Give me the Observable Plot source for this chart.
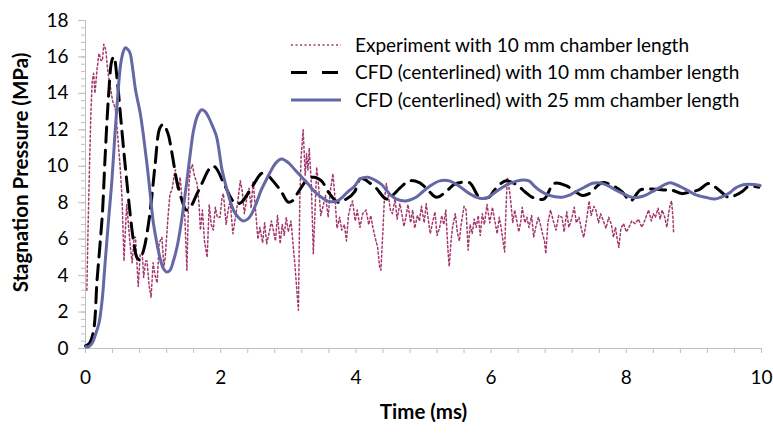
<!DOCTYPE html>
<html>
<head>
<meta charset="utf-8">
<script src="https://cdn.jsdelivr.net/npm/d3@7"></script>
<script src="https://cdn.jsdelivr.net/npm/@observablehq/plot@0.6"></script>
<style>
  html, body { margin: 0; padding: 0; background: #fff; }
  #wrap { position: relative; width: 773px; height: 435px; font-family: Lato, "Open Sans", sans-serif; }
  #legend { position: absolute; left: 0; top: 0; pointer-events: none; }
</style>
</head>
<body>
<div id="wrap"></div>
<script>
// ---- data (time in ms, pressure in MPa) ----
const seriesNames = [
  "Experiment with 10 mm chamber length",
  "CFD (centerlined) with 10 mm chamber length",
  "CFD (centerlined) with 25 mm chamber length"
];
const xTicks = [0, 2, 4, 6, 8, 10];
const yTicks = [0, 2, 4, 6, 8, 10, 12, 14, 16, 18];
const xTitle = "Time (ms)";
const yTitle = "Stagnation Pressure (MPa)";

const experiment = [
  [0.02,3.2],[0.04,7.0],[0.06,10.1],[0.08,13.0],[0.10,14.7],[0.12,15.1],[0.14,14.0],[0.17,15.3],
  [0.20,16.2],[0.23,15.8],[0.25,15.8],[0.27,16.7],[0.30,16.4],[0.33,15.2],[0.37,14.3],[0.40,13.6],
  [0.44,13.2],[0.47,12.0],[0.49,11.0],[0.51,10.1],[0.54,8.3],[0.57,4.8],[0.59,6.5],[0.61,7.9],
  [0.66,5.7],[0.69,4.7],[0.72,6.1],[0.74,6.1],[0.78,3.4],[0.81,5.2],[0.84,5.2],[0.86,3.9],
  [0.89,4.8],[0.91,4.8],[0.94,3.5],[0.97,2.8],[1.00,4.7],[1.03,4.0],[1.06,3.6],[1.09,5.8],
  [1.13,6.1],[1.16,4.5],[1.18,5.0],[1.22,7.2],[1.25,8.5],[1.28,8.7],[1.31,9.5],[1.33,9.8],
  [1.35,8.9],[1.37,8.7],[1.40,9.4],[1.43,8.1],[1.47,7.2],[1.50,4.3],[1.53,9.0],[1.55,9.8],
  [1.58,10.1],[1.61,9.5],[1.65,9.05],[1.68,7.9],[1.70,6.5],[1.73,7.6],[1.76,5.9],[1.80,5.0],
  [1.83,7.9],[1.86,6.8],[1.89,6.5],[1.92,7.75],[1.95,7.2],[1.99,7.2],[2.02,8.3],[2.04,8.5],
  [2.08,6.8],[2.11,7.6],[2.14,8.1],[2.18,6.3],[2.21,7.0],[2.25,8.0],[2.29,9.2],[2.32,8.6],
  [2.35,7.4],[2.38,8.1],[2.42,8.8],[2.45,7.7],[2.48,9.2],[2.52,7.4],[2.55,6.0],[2.58,6.65],
  [2.62,5.8],[2.65,6.9],[2.68,5.75],[2.72,6.4],[2.75,7.0],[2.77,6.65],[2.81,5.9],[2.84,7.3],
  [2.88,5.75],[2.91,6.8],[2.94,6.2],[2.97,7.2],[3.00,6.4],[3.04,7.0],[3.07,5.75],[3.10,4.5],
  [3.13,3.0],[3.15,2.1],[3.17,8.1],[3.19,10.5],[3.22,12.0],[3.25,9.5],[3.27,10.7],[3.29,9.8],
  [3.31,11.0],[3.34,9.05],[3.36,6.5],[3.37,5.2],[3.40,8.0],[3.42,9.95],[3.45,8.8],[3.48,7.3],
  [3.51,7.75],[3.55,8.4],[3.59,7.2],[3.62,8.6],[3.66,9.6],[3.69,8.3],[3.72,6.6],[3.76,7.2],
  [3.79,6.5],[3.83,6.8],[3.86,5.9],[3.89,7.3],[3.92,7.8],[3.95,8.1],[3.99,7.0],[4.02,7.6],
  [4.06,6.65],[4.10,7.4],[4.15,7.6],[4.19,6.8],[4.22,7.3],[4.25,6.65],[4.29,6.0],[4.32,5.6],
  [4.35,4.5],[4.37,4.3],[4.40,6.5],[4.42,8.1],[4.45,9.05],[4.48,8.4],[4.51,7.6],[4.54,7.4],
  [4.58,8.2],[4.61,7.1],[4.65,7.95],[4.68,7.4],[4.71,6.7],[4.74,7.2],[4.77,7.9],[4.81,6.9],
  [4.84,7.6],[4.87,6.6],[4.91,7.3],[4.94,7.0],[4.97,7.8],[5.01,6.9],[5.04,7.95],[5.07,7.1],
  [5.10,6.3],[5.13,6.85],[5.17,7.5],[5.20,6.2],[5.24,6.65],[5.27,7.3],[5.30,6.8],[5.33,7.6],
  [5.36,5.5],[5.38,4.5],[5.41,6.0],[5.43,6.65],[5.47,7.4],[5.50,6.4],[5.53,5.9],[5.56,6.9],
  [5.60,7.8],[5.63,7.6],[5.66,5.4],[5.69,6.8],[5.72,6.3],[5.75,7.1],[5.78,6.65],[5.81,7.3],
  [5.84,6.2],[5.87,7.4],[5.90,6.8],[5.94,7.9],[5.98,6.9],[6.02,7.75],[6.05,7.1],[6.09,6.3],
  [6.12,7.2],[6.15,6.6],[6.18,5.8],[6.20,5.3],[6.22,7.6],[6.24,9.4],[6.27,8.7],[6.29,8.1],
  [6.32,6.9],[6.35,7.6],[6.37,7.2],[6.41,6.4],[6.44,7.0],[6.46,7.75],[6.50,6.9],[6.53,7.2],
  [6.56,6.65],[6.60,7.3],[6.63,6.1],[6.66,6.65],[6.70,7.2],[6.73,6.8],[6.76,6.3],[6.79,5.9],
  [6.81,5.2],[6.84,6.9],[6.88,7.6],[6.92,7.0],[6.96,6.5],[7.00,7.3],[7.05,7.2],[7.08,6.4],
  [7.12,7.5],[7.15,6.65],[7.19,7.1],[7.23,7.75],[7.26,6.9],[7.30,7.2],[7.34,6.5],[7.37,6.1],
  [7.41,7.0],[7.45,8.1],[7.48,7.3],[7.52,7.8],[7.55,7.6],[7.59,6.9],[7.62,7.4],[7.66,7.0],
  [7.70,6.6],[7.74,7.2],[7.78,6.8],[7.81,6.1],[7.84,6.65],[7.87,5.9],[7.89,5.55],[7.92,6.6],
  [7.96,6.85],[8.00,6.4],[8.04,6.65],[8.08,7.0],[8.13,6.85],[8.18,7.1],[8.23,6.65],[8.27,7.0],
  [8.30,7.3],[8.33,7.6],[8.37,7.0],[8.40,7.4],[8.43,7.2],[8.47,7.7],[8.50,7.1],[8.53,7.6],
  [8.57,7.2],[8.60,6.65],[8.63,7.5],[8.65,7.9],[8.67,8.1],[8.69,7.2],[8.70,6.3]
];

const cfd10 = [
  [0,0.15],[0.06,0.3],[0.12,1.0],[0.17,3.7],[0.21,5.5],[0.25,7.4],[0.29,10.5],[0.34,13.8],
  [0.39,15.8],[0.42,16.0],[0.47,14.7],[0.52,12.7],[0.57,10.7],[0.61,9.2],[0.66,7.4],[0.71,5.9],
  [0.76,5.0],[0.80,4.87],[0.86,5.4],[0.93,6.8],[0.98,8.3],[1.03,10.1],[1.10,12.1],[1.15,12.3],
  [1.22,11.8],[1.28,10.7],[1.35,9.2],[1.43,8.1],[1.49,7.6],[1.55,7.75],[1.65,8.5],[1.74,9.2],
  [1.82,9.8],[1.87,10.0],[1.92,9.95],[2.06,8.95],[2.18,8.1],[2.25,7.95],[2.31,8.03],[2.46,8.85],
  [2.60,9.6],[2.65,9.65],[2.70,9.5],[2.88,8.7],[3.00,8.03],[3.06,8.1],[3.15,8.6],[3.29,9.3],
  [3.39,9.4],[3.49,9.2],[3.61,8.5],[3.73,8.03],[3.86,8.2],[3.98,8.6],[4.06,9.3],[4.12,9.3],
  [4.20,9.1],[4.30,8.8],[4.45,8.2],[4.54,8.4],[4.65,8.8],[4.79,9.2],[4.94,9.1],[5.04,8.8],
  [5.19,8.3],[5.33,8.6],[5.45,9.0],[5.53,9.1],[5.68,9.1],[5.83,8.3],[5.97,8.3],[6.05,8.7],
  [6.22,9.2],[6.39,8.95],[6.50,8.6],[6.61,8.3],[6.78,8.2],[6.93,9.05],[7.10,8.95],[7.25,8.6],
  [7.35,8.4],[7.45,8.5],[7.64,9.1],[7.79,8.95],[7.94,8.6],[8.06,8.1],[8.21,8.7],[8.38,8.75],
  [8.55,8.7],[8.67,8.7],[8.82,8.5],[8.95,8.6],[9.07,8.7],[9.22,9.05],[9.37,8.7],[9.51,8.3],
  [9.61,8.4],[9.71,8.6],[9.81,8.9],[9.96,8.85]
];

const cfd25 = [
  [0,0.1],[0.05,0.1],[0.10,0.3],[0.15,0.8],[0.20,1.4],[0.25,2.8],[0.29,4.7],[0.34,7.0],
  [0.39,9.2],[0.44,12.0],[0.48,14.0],[0.52,15.6],[0.56,16.3],[0.59,16.5],[0.63,16.4],[0.66,16.2],
  [0.70,15.3],[0.74,14.2],[0.81,12.9],[0.86,11.6],[0.91,10.1],[0.96,8.4],[1.00,7.0],[1.05,5.9],
  [1.10,5.0],[1.15,4.4],[1.20,4.2],[1.25,4.3],[1.30,4.8],[1.35,5.5],[1.40,6.5],[1.45,7.8],
  [1.50,9.2],[1.55,10.7],[1.60,12.0],[1.66,12.8],[1.72,13.1],[1.77,13.0],[1.82,12.7],[1.88,12.2],
  [1.94,11.6],[2.02,9.8],[2.08,8.9],[2.14,8.1],[2.20,7.5],[2.26,7.2],[2.33,7.0],[2.40,7.1],
  [2.46,7.4],[2.53,8.0],[2.60,8.7],[2.68,9.3],[2.75,9.8],[2.82,10.2],[2.90,10.4],[3.00,10.2],
  [3.10,9.8],[3.20,9.4],[3.30,9.0],[3.39,8.6],[3.49,8.3],[3.59,8.07],[3.66,8.05],[3.73,8.1],
  [3.80,8.3],[3.88,8.6],[3.98,8.9],[4.06,9.3],[4.18,9.4],[4.30,9.2],[4.38,9.0],[4.45,8.7],
  [4.52,8.4],[4.60,8.2],[4.74,8.1],[4.89,8.3],[4.99,8.6],[5.09,8.9],[5.24,9.2],[5.38,9.2],
  [5.53,8.9],[5.68,8.5],[5.83,8.25],[5.92,8.25],[6.00,8.4],[6.07,8.6],[6.17,8.85],[6.27,9.05],
  [6.39,9.2],[6.47,9.25],[6.56,9.2],[6.63,8.95],[6.71,8.7],[6.86,8.4],[7.05,8.3],[7.15,8.4],
  [7.25,8.6],[7.38,8.85],[7.50,9.07],[7.58,9.1],[7.65,9.05],[7.75,8.9],[7.84,8.7],[7.95,8.5],
  [8.08,8.3],[8.18,8.3],[8.28,8.4],[8.38,8.6],[8.48,8.8],[8.57,9.0],[8.65,9.1],[8.73,9.0],
  [8.82,8.85],[8.92,8.65],[9.02,8.45],[9.17,8.3],[9.31,8.2],[9.40,8.3],[9.46,8.4],[9.55,8.6],
  [9.61,8.8],[9.70,8.95],[9.76,9.0],[9.88,9.0],[9.98,8.95]
];

// ---- styles ----
const colExp = "#A3386E";
const colC10 = "#000000";
const colC25 = "#6668A6";
const axisGray = "#BFBFBF";
const fontFam = "Lato, 'Open Sans', sans-serif";

const minorX = d3.range(0, 26).map(i => +(i * 0.4).toFixed(2));
const minorY = d3.range(0, 46).map(i => +(i * 0.4).toFixed(2));

const chart = Plot.plot({
  width: 773,
  height: 435,
  marginLeft: 85,
  marginRight: 12,
  marginTop: 20,
  marginBottom: 87,
  style: { fontFamily: fontFam, fontSize: "19px", color: "#000", background: "#fff", overflow: "visible" },
  x: { domain: [0, 10] },
  y: { domain: [0, 18] },
  marks: [
    Plot.ruleY([0], { stroke: axisGray, strokeWidth: 1 }),
    Plot.ruleX([0], { stroke: axisGray, strokeWidth: 1 }),
    Plot.axisX(minorX, { tickSize: 5, text: null, stroke: axisGray, label: null }),
    Plot.axisX(xTicks, { tickSize: 0, tickPadding: 22, label: null, fill: "#000" }),
    Plot.axisY(minorY, { tickSize: 4, text: null, stroke: axisGray, label: null }),
    Plot.axisY(yTicks, { tickSize: 7, text: null, stroke: axisGray, label: null }),
    Plot.axisY(yTicks, { tickSize: 0, tickPadding: 17, label: null, fill: "#000" }),
    Plot.text([xTitle], { frameAnchor: "bottom", dy: 70, fontWeight: "bold", fill: "#000", textAnchor: "middle" }),
    Plot.text([yTitle], { frameAnchor: "left", dx: -64, dy: -12, rotate: -90, fontWeight: "bold", fill: "#000", textAnchor: "middle" }),
    Plot.line(experiment, { x: d => d[0], y: d => d[1], stroke: colExp, strokeWidth: 1.5, strokeDasharray: "2,2.5", curve: "linear" }),
    Plot.line(cfd10, { x: d => d[0], y: d => d[1], stroke: colC10, strokeWidth: 3, strokeDasharray: "15,8", curve: "catmull-rom" }),
    Plot.line(cfd25, { x: d => d[0], y: d => d[1], stroke: colC25, strokeWidth: 3, curve: "catmull-rom" })
  ]
});

// enforce text sizes
const svgSel = d3.select(chart);
svgSel.selectAll('g[aria-label="x-axis tick label"] text, g[aria-label="y-axis tick label"] text')
  .style("font-size", "19px").style("font-family", fontFam);
svgSel.selectAll('g[aria-label="text"] text')
  .style("font-size", "20.5px").style("font-weight", "bold").style("font-family", fontFam);

const wrap = document.getElementById("wrap");
wrap.appendChild(chart);

// ---- legend (overlay) ----
const legendStyles = [
  { stroke: colExp, width: 1.5, dash: "2,2.5" },
  { stroke: colC10, width: 3, dash: "16,15" },
  { stroke: colC25, width: 3, dash: null }
];
const leg = d3.select(wrap).append("svg")
  .attr("id", "legend")
  .attr("width", 773).attr("height", 435);
const rows = leg.selectAll("g").data(seriesNames).join("g")
  .attr("transform", (d, i) => `translate(291,${45 + i * 27.5})`);
rows.append("line")
  .attr("x1", 0).attr("x2", 50).attr("y1", 0).attr("y2", 0)
  .attr("stroke", (d, i) => legendStyles[i].stroke)
  .attr("stroke-width", (d, i) => legendStyles[i].width)
  .attr("stroke-dasharray", (d, i) => legendStyles[i].dash);
rows.append("text")
  .attr("x", 64).attr("y", 0).attr("dy", "0.35em")
  .style("font-family", fontFam).style("font-size", "19px")
  .attr("fill", "#000")
  .text(d => d);
</script>
</body>
</html>
